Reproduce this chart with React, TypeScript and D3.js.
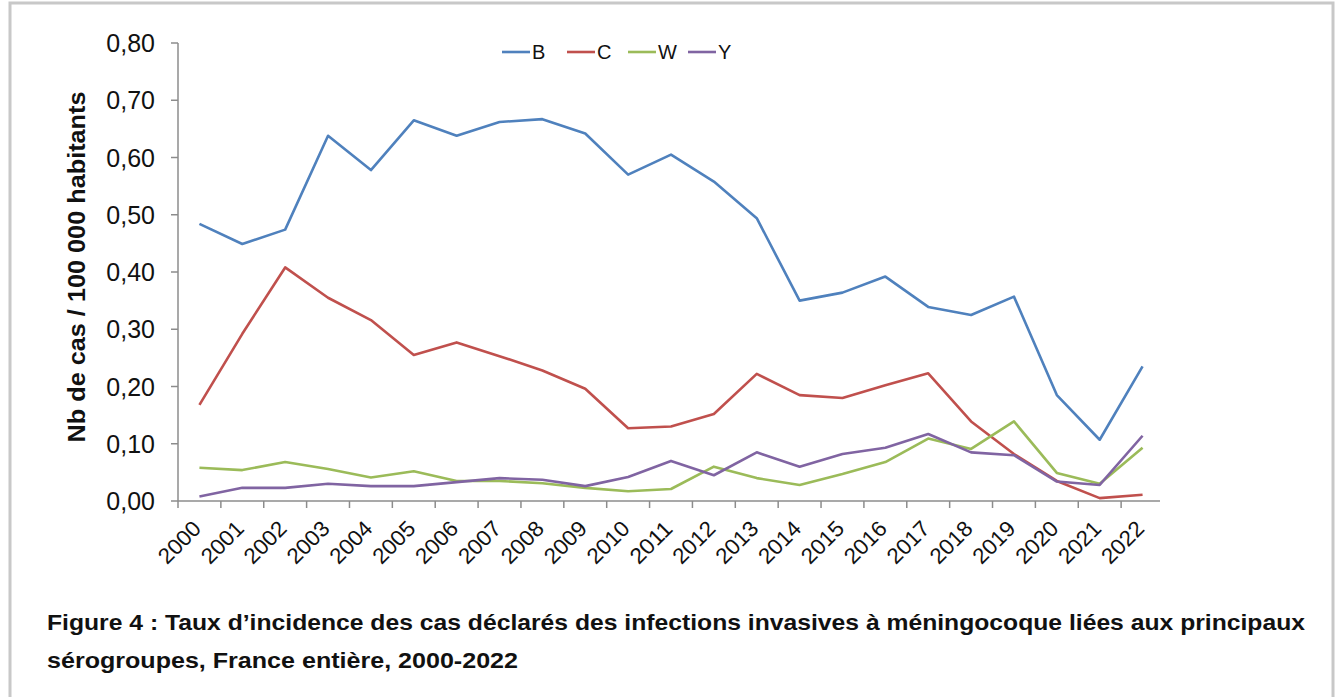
import * as React from 'react';
import * as d3 from 'd3';

const years = ['2000', '2001', '2002', '2003', '2004', '2005', '2006', '2007', '2008', '2009', '2010', '2011',
  '2012', '2013', '2014', '2015', '2016', '2017', '2018', '2019', '2020', '2021', '2022'];

const serieB = [0.484, 0.449, 0.474, 0.638, 0.578, 0.665, 0.638, 0.662, 0.667, 0.642, 0.570, 0.605,
  0.558, 0.494, 0.350, 0.364, 0.392, 0.339, 0.325, 0.357, 0.185, 0.107, 0.235];
const serieC = [0.168, 0.292, 0.408, 0.355, 0.316, 0.255, 0.277, 0.253, 0.228, 0.196, 0.127, 0.130,
  0.152, 0.222, 0.185, 0.180, 0.202, 0.223, 0.139, 0.082, 0.035, 0.005, 0.011];
const serieW = [0.058, 0.054, 0.068, 0.056, 0.041, 0.052, 0.035, 0.035, 0.031, 0.023, 0.017, 0.021,
  0.060, 0.040, 0.028, 0.047, 0.068, 0.109, 0.091, 0.139, 0.049, 0.030, 0.093];
const serieY = [0.008, 0.023, 0.023, 0.030, 0.026, 0.026, 0.033, 0.040, 0.037, 0.026, 0.042, 0.070,
  0.045, 0.085, 0.060, 0.082, 0.093, 0.117, 0.085, 0.080, 0.034, 0.028, 0.114];

const seriesNames = ['B', 'C', 'W', 'Y'];
const seriesColors = ['#4f81bd', '#c0504d', '#9bbb59', '#8064a2'];
const yTicks = [0, 0.1, 0.2, 0.3, 0.4, 0.5, 0.6, 0.7, 0.8];

const caption1 = 'Figure 4 : Taux d\u2019incidence des cas déclarés des infections invasives à méningocoque liées aux principaux';
const caption2 = 'sérogroupes, France entière, 2000-2022';

class App extends React.Component {
  private element;

  componentDidMount() {
    this.init();
  }

  init() {
    const svg = d3.select(this.element);
    svg.selectAll('*').remove();
    const font = '"Liberation Sans", Arial, sans-serif';
    const axisColor = '#8c8c8c';

    // frame
    svg.append('rect')
      .attr('x', 10).attr('y', 3)
      .attr('width', 1323).attr('height', 700)
      .attr('fill', 'white')
      .attr('stroke', '#c8c8c8')
      .attr('stroke-width', 3);

    const x = d3.scaleBand().domain(years).range([178, 1164]).padding(0);
    const y = d3.scaleLinear().domain([0, 0.8]).range([501, 43]);
    const cx = (d) => x(d) + x.bandwidth() / 2;

    const g = svg.append('g');

    // y axis
    g.append('line')
      .attr('x1', 178).attr('x2', 178)
      .attr('y1', y(0.8)).attr('y2', y(0))
      .attr('stroke', axisColor).attr('stroke-width', 1.5);
    g.selectAll('.ytick').data(yTicks).enter()
      .append('line')
      .attr('x1', 171).attr('x2', 178)
      .attr('y1', (d) => y(d)).attr('y2', (d) => y(d))
      .attr('stroke', axisColor).attr('stroke-width', 1.5);
    g.selectAll('.ylab').data(yTicks).enter()
      .append('text')
      .attr('x', 155)
      .attr('y', (d) => y(d) + 9)
      .attr('text-anchor', 'end')
      .attr('font-family', font)
      .attr('font-size', '25px')
      .attr('fill', '#111')
      .text((d) => d3.format('.2f')(d).replace('.', ','));

    // x axis
    g.append('line')
      .attr('x1', 178).attr('x2', 1160)
      .attr('y1', y(0)).attr('y2', y(0))
      .attr('stroke', axisColor).attr('stroke-width', 1.5);
    const bounds = d3.range(years.length + 1).map((i) => 178 + i * x.step());
    g.selectAll('.xtick').data(bounds.slice(0, years.length)).enter()
      .append('line')
      .attr('x1', (d) => d).attr('x2', (d) => d)
      .attr('y1', y(0)).attr('y2', y(0) + 7)
      .attr('stroke', axisColor).attr('stroke-width', 1.5);
    g.selectAll('.xlab').data(years).enter()
      .append('text')
      .attr('text-anchor', 'end')
      .attr('font-family', font)
      .attr('font-size', '22px')
      .attr('fill', '#111')
      .attr('textLength', 50)
      .attr('lengthAdjust', 'spacingAndGlyphs')
      .attr('transform', (d) => `translate(${cx(d) + 3}, ${y(0) + 29}) rotate(-45)`)
      .text((d) => d);

    // y title
    g.append('text')
      .attr('transform', `translate(85, 267) rotate(-90)`)
      .attr('text-anchor', 'middle')
      .attr('font-family', font)
      .attr('font-weight', 'bold')
      .attr('font-size', '24px')
      .attr('fill', '#111')
      .attr('textLength', 351)
      .attr('lengthAdjust', 'spacingAndGlyphs')
      .text('Nb de cas / 100 000 habitants');

    // lines
    const allSeries = [serieB, serieC, serieW, serieY];
    const line = d3.line<number>()
      .x((d, i) => cx(years[i]))
      .y((d) => y(d));
    allSeries.forEach((s, i) => {
      g.append('path')
        .datum(s)
        .attr('d', line)
        .attr('fill', 'none')
        .attr('stroke', seriesColors[i])
        .attr('stroke-width', 2.6)
        .attr('stroke-linejoin', 'round');
    });

    // legend
    const legendX = [502, 567, 628, 688];
    const legend = g.selectAll('.leg').data(seriesNames).enter()
      .append('g')
      .attr('transform', (d, i) => `translate(${legendX[i]}, 52)`);
    legend.append('line')
      .attr('x1', 0).attr('x2', 28)
      .attr('y1', 0).attr('y2', 0)
      .attr('stroke', (d, i) => seriesColors[i])
      .attr('stroke-width', 2.6);
    legend.append('text')
      .attr('x', 30).attr('y', 7)
      .attr('font-family', font)
      .attr('font-size', '20px')
      .attr('fill', '#111')
      .text((d) => d);

    // caption
    const capFont = '"Liberation Sans Narrow", "Arial Narrow", "Liberation Sans", sans-serif';
    svg.append('text')
      .attr('x', 47).attr('y', 630)
      .attr('font-family', capFont)
      .attr('font-weight', 'bold')
      .attr('font-size', '22px')
      .attr('fill', '#111')
      .attr('textLength', 1258)
      .attr('lengthAdjust', 'spacingAndGlyphs')
      .text(caption1);
    svg.append('text')
      .attr('x', 47).attr('y', 668)
      .attr('font-family', capFont)
      .attr('font-weight', 'bold')
      .attr('font-size', '22px')
      .attr('fill', '#111')
      .attr('textLength', 471)
      .attr('lengthAdjust', 'spacingAndGlyphs')
      .text(caption2);
  }

  render() {
    return <svg ref={(ref) => (this.element = ref)} width={1337} height={697}
      style={{ position: 'absolute', left: 0, top: 0, background: 'white' }} />;
  }
}

export default App;
